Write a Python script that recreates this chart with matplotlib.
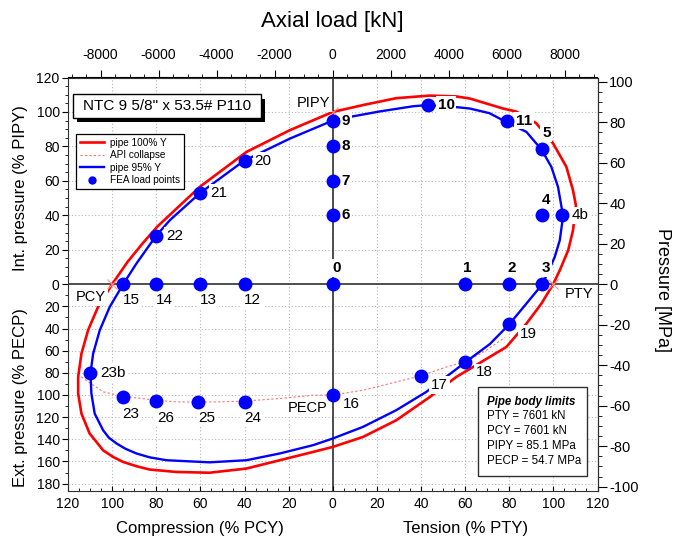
import matplotlib.pyplot as plt
import matplotlib.patches as mpatches
from matplotlib.lines import Line2D
from matplotlib.ticker import MultipleLocator, FixedLocator
import numpy as np

plt.rcParams['font.family'] = ['Liberation Sans', 'DejaVu Sans']
plt.rcParams['axes.unicode_minus'] = False

# pipe body limits
PTY = 7601.0   # kN
PIPY = 85.1    # MPa
PECP = 54.7    # MPa

# axial in % of PTY/PCY (neg = compression)
# pressure in % of PIPY (internal, +) or % of PECP (external, -)
red_axial = [0, -19.5, -39.1, -60.3, -79.5, -86, -93, -100, -106.4, -110.9, -113.9,
             -115.4, -115.4, -113.9, -110.2, -107.1, -104.1, -99.6, -95.1, -89, -83,
             -70.9, -55.8, -39.1, -24, -8.9, 0, 13.7, 28.8, 44, 56, 63.5, 78.7, 87.8,
             94.6, 99.9, 102.9, 106.7, 108.9, 110.2, 108.9, 105.9, 99.9, 92.2, 83.2,
             77.2, 62.1, 56, 43.9, 28.8, 13.7, 0]
red_press = [100, 89.4, 76.8, 56.5, 33.5, 24, 13, 0, -20.5, -41.5, -62.6,
             -83.7, -98.7, -116.8, -134.8, -142.4, -149.9, -155.9, -160.4, -164.3, -167.3,
             -169.5, -170.2, -166.4, -158.9, -151.4, -146.9, -137.9, -122.8, -101.8,
             -83.7, -74.8, -56.6, -35.5, -17.4, 0, 8.1, 19.7, 31.3, 45.8, 54.5, 68.1,
             81.7, 93.5, 100.2, 102, 107.8, 109, 109.5, 108, 104, 100]

blue_axial = [0, -19.5, -40.3, -60.2, -73.9, -80.2, -89, -95, -101.1, -105.6, -108.6,
              -109.8, -109.4, -107.9, -104.1, -101.5, -98, -94, -89, -83, -75.4, -55.8,
              -39.1, -24, -8.9, 0, 13.7, 28.8, 42.4, 60, 71.2, 79.9, 87.8, 95, 97.6,
              100.6, 102.9, 104.4, 102.1, 99.1, 94.6, 87.8, 78, 71, 62.1, 56.8, 43,
              36.4, 21.3, 8.5, 0]
blue_press = [95, 84.5, 71.6, 52.9, 37.1, 27.9, 12, 0, -20.5, -41.5, -62.6,
              -80, -98.7, -116.8, -131.8, -138.5, -143.8, -148.5, -152.8, -156.3, -158.9,
              -160.8, -158.9, -152.8, -145.3, -139.3, -128.8, -113.7, -97.2, -70.6, -54,
              -36.4, -17.4, 0, 7.1, 15.8, 25.5, 39.6, 56.5, 68.1, 78.2, 88.4, 94.6, 99.3,
              102, 102.7, 104, 103.3, 100.3, 97.3, 95]

api_axial = [-114, -104, -95.3, -80.2, -70.9, -61, -51.6, -40, -24, -8.9, 0, 13.7,
             28.8, 39.7, 51.5, 60, 69.6, 78]
api_press = [-83.7, -97.2, -101.1, -104.7, -106.2, -106.5, -106.2, -105.5, -103.2,
             -100.2, -100, -95.7, -88.2, -82.8, -74.7, -70.1, -59.7, -48]

fea_names = ['0', '1', '2', '3', '4', '4b', '5', '6', '7', '8', '9', '10', '11',
             '12', '13', '14', '15', '16', '17', '18', '19', '20', '21', '22',
             '23', '23b', '24', '25', '26']
fea_axial = [0, 60, 80, 95, 95, 104, 95, 0, 0, 0, 0, 43, 79,
             -40, -60, -80, -95, 0, 40, 60, 80, -40, -60, -80,
             -95, -110, -40, -61, -80]
fea_press = [0, 0, 0, 0, 40, 40, 78.5, 40, 60, 80, 95, 104, 95,
             0, 0, 0, 0, -100, -83, -70.6, -36, 71.6, 53, 28,
             -101.4, -80, -106, -106.7, -105]

limit_names = ['PIPY', 'PCY', 'PTY', 'PECP']
limit_axial = [0, -100, 100, 0]
limit_press = [100, 0, 0, -100]


def to_mpa(p):
    p = np.asarray(p, dtype=float)
    return np.where(p >= 0, p * PIPY / 100.0, p * PECP / 100.0)


# label offsets in pixels (dx, dy, ha)
lab_off = {
    '0': (4, 16, 'center'), '1': (2, 16, 'center'), '2': (2, 16, 'center'),
    '3': (4, 16, 'center'), '4': (4, 15, 'center'), '5': (4, 16, 'center'),
    '4b': (9, 0, 'left'), '6': (9, 0, 'left'), '7': (9, 0, 'left'),
    '8': (9, 0, 'left'), '9': (9, 0, 'left'), '10': (10, 0, 'left'),
    '11': (9, 0, 'left'),
    '12': (8, -16, 'center'), '13': (8, -16, 'center'), '14': (8, -16, 'center'),
    '15': (8, -16, 'center'),
    '16': (10, -9, 'left'), '17': (10, -9, 'left'), '18': (11, -10, 'left'),
    '19': (11, -10, 'left'),
    '20': (10, 0, 'left'), '21': (10, 0, 'left'), '22': (10, 0, 'left'),
    '23b': (10, 0, 'left'),
    '23': (8, -17, 'center'), '24': (8, -16, 'center'), '25': (9, -16, 'center'),
    '26': (9, -17, 'center'),
}
lim_off = {'PIPY': (-3, 9, 'right'), 'PCY': (-6, -13, 'right'),
           'PTY': (11, -10, 'left'), 'PECP': (-5, -13, 'right')}
bold_names = ['0', '1', '2', '3', '4', '5', '6', '7', '8', '9', '10', '11']

fig = plt.figure(figsize=(6.74, 5.38), dpi=100)
ax = fig.add_axes([68 / 674, 47 / 538, 529.5 / 674, 413.5 / 538])
ymax = 1.2 * PIPY
ax.set_xlim(-120, 120)
ax.set_ylim(-ymax, ymax)

# grid
for gx in range(-120, 121, 20):
    ax.axvline(gx, color='#b8b8b8', lw=0.8, ls=(0, (1, 2)), zorder=0)
grid_p = list(range(20, 121, 20)) + [-v for v in range(20, 181, 20)]
for gp in to_mpa(grid_p):
    ax.axhline(gp, color='#b8b8b8', lw=0.8, ls=(0, (1, 2)), zorder=0)
ax.axhline(0, color='#404040', lw=1.3, zorder=1)
ax.axvline(0, color='#404040', lw=1.3, zorder=1)

ax.plot(api_axial, to_mpa(api_press), color='#ff7070', lw=0.8, ls=(0, (2, 2)), zorder=2)
ax.plot(red_axial, to_mpa(red_press), color='#ff0000', lw=1.9, zorder=2,
        solid_joinstyle='round')
ax.plot(blue_axial, to_mpa(blue_press), color='#0000ff', lw=1.7, zorder=3,
        solid_joinstyle='round')
ax.plot(limit_axial[:3], to_mpa(limit_press[:3]), ls='none', marker='x', ms=7, mew=0.8,
        color='#ff9090', zorder=3)
ax.plot(fea_axial, to_mpa(fea_press), ls='none', marker='o', ms=9, color='#0000ff', zorder=6)

for n, xa, pr in zip(fea_names, fea_axial, to_mpa(fea_press)):
    dx, dy, ha = lab_off[n]
    ax.annotate(n, (xa, pr), xytext=(dx * 0.72, dy * 0.72), textcoords='offset points',
                ha=ha, va='center', fontsize=11,
                fontweight='bold' if n in bold_names else 'normal',
                bbox=dict(boxstyle='square,pad=0.12', fc='white', ec='none'), zorder=5)

for n, xa, pr in zip(limit_names, limit_axial, to_mpa(limit_press)):
    dx, dy, ha = lim_off[n]
    ax.annotate(n, (xa, pr), xytext=(dx * 0.72, dy * 0.72), textcoords='offset points',
                ha=ha, va='center', fontsize=10.5,
                bbox=dict(boxstyle='square,pad=0.12', fc='white', ec='none'), zorder=5)

# bottom axis
ax.xaxis.set_major_locator(FixedLocator(range(-120, 121, 20)))
ax.set_xticklabels([str(abs(v)) for v in range(-120, 121, 20)])
ax.xaxis.set_minor_locator(MultipleLocator(5))
ax.tick_params(axis='x', which='major', direction='in', length=3.5, pad=4.5, labelsize=10)
ax.tick_params(axis='x', which='minor', direction='in', length=2)

# left axis
left_major = [-v for v in range(180, 0, -20)] + list(range(0, 121, 20))
ax.set_yticks(to_mpa(left_major))
ax.set_yticklabels([str(abs(v)) for v in left_major])
left_minor = [-v for v in range(180, 0, -10)] + list(range(0, 121, 5))
ax.yaxis.set_minor_locator(FixedLocator(to_mpa(left_minor)))
ax.tick_params(axis='y', which='major', direction='out', length=4.5, pad=1.5, labelsize=10)
ax.tick_params(axis='y', which='minor', direction='out', length=2.2)
ax.tick_params(top=False, right=False, which='both')

# top axis (kN)
top = ax.secondary_xaxis('top', functions=(lambda v: v * PTY / 100.0,
                                           lambda v: v * 100.0 / PTY))
top.set_xticks(range(-8000, 8001, 2000))
top.xaxis.set_minor_locator(MultipleLocator(500))
top.tick_params(which='major', direction='out', length=5, pad=6.5, labelsize=10)
top.tick_params(which='minor', direction='out', length=2.2)

# right axis (MPa)
right = ax.secondary_yaxis('right')
right.set_yticks(range(-100, 101, 20))
right.yaxis.set_minor_locator(MultipleLocator(5))
right.tick_params(which='major', direction='out', length=6.5, pad=2, labelsize=10.5)
right.tick_params(which='minor', direction='out', length=3)

for sp in ax.spines.values():
    sp.set_color('#303030')

# title box with shadow
ax.add_patch(mpatches.Rectangle((0.0170, 0.893), 0.3546, 0.056, transform=ax.transAxes,
                                fc='black', ec='none', zorder=7))
ax.add_patch(mpatches.Rectangle((0.0094, 0.903), 0.3546, 0.056, transform=ax.transAxes,
                                fc='white', ec='black', lw=1, zorder=8))
ax.text(0.1867, 0.931, 'NTC 9 5/8" x 53.5# P110', transform=ax.transAxes,
        ha='center', va='center', fontsize=11, zorder=9)

# legend
handles = [Line2D([], [], color='#ff0000', lw=1.9),
           Line2D([], [], color='#ff7070', lw=0.8, ls=(0, (2, 2))),
           Line2D([], [], color='#0000ff', lw=1.7),
           Line2D([], [], color='#0000ff', ls='none', marker='o', ms=5)]
leg = ax.legend(handles, ['pipe 100% Y', 'API collapse', 'pipe 95% Y', 'FEA load points'],
                loc='upper left', bbox_to_anchor=(0.015, 0.864), borderaxespad=0,
                fontsize=7.2, handlelength=2.4, labelspacing=0.25, handletextpad=0.6,
                borderpad=0.4, fancybox=False, framealpha=1, edgecolor='black')
leg.get_frame().set_linewidth(0.9)
leg.set_zorder(10)

# pipe body limits box
ax.add_patch(mpatches.Rectangle((0.7736, 0.0364), 0.2075, 0.216, transform=ax.transAxes,
                                fc='white', ec='#303030', lw=1, zorder=7))
box_lines = ['Pipe body limits', 'PTY = 7601 kN', 'PCY = 7601 kN',
             'PIPY = 85.1 MPa', 'PECP = 54.7 MPa']
for i, s in enumerate(box_lines):
    ypx = 401.5 + 14.8 * i
    ax.text((487 - 68) / 529.5, 1 - (ypx - 77.5) / 413.5, s, transform=ax.transAxes,
            ha='left', va='center', fontsize=8.3, zorder=8,
            fontweight='bold' if i == 0 else 'normal',
            fontstyle='italic' if i == 0 else 'normal')

# axis titles
fig.text(332 / 674, 1 - 21 / 538, 'Axial load [kN]', ha='center', va='center', fontsize=16)
fig.text(663 / 674, 1 - 290 / 538, 'Pressure [MPa]', ha='center', va='center',
         fontsize=13, rotation=-90)
fig.text(21 / 674, 1 - 188 / 538, 'Int. pressure (% PIPY)', ha='center', va='center',
         fontsize=12, rotation=90)
fig.text(21 / 674, 1 - 398 / 538, 'Ext. pressure (% PECP)', ha='center', va='center',
         fontsize=12, rotation=90)
fig.text(200 / 674, 1 - 529 / 538, 'Compression (% PCY)', ha='center', va='center',
         fontsize=12)
fig.text(466 / 674, 1 - 529 / 538, 'Tension (% PTY)', ha='center', va='center',
         fontsize=12)

fig.savefig('out.png', dpi=100)
